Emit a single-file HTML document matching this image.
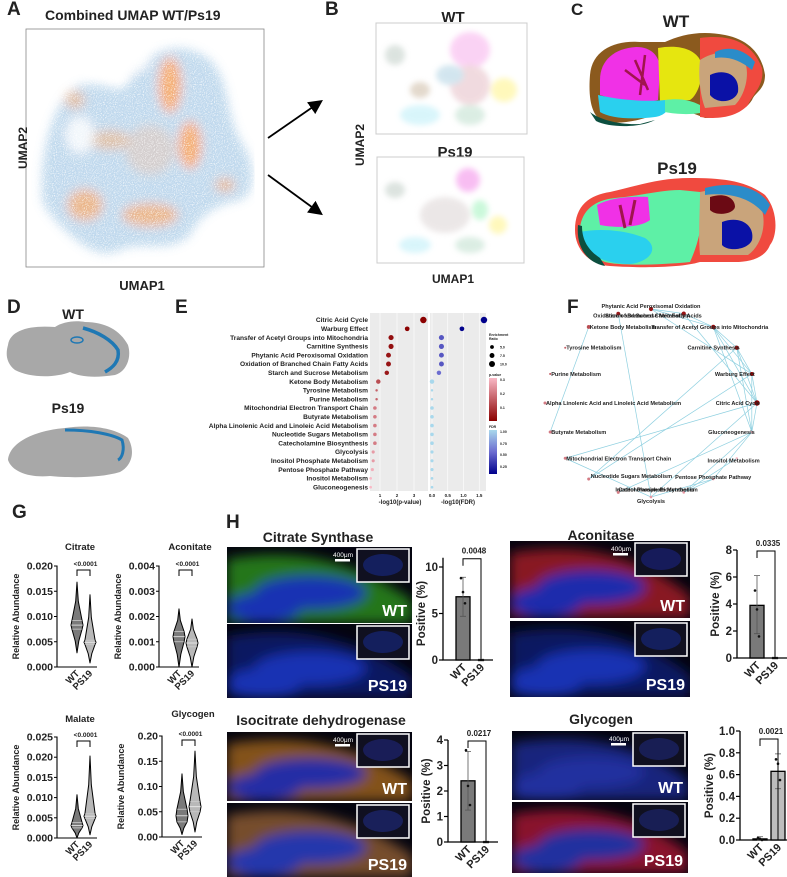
<!DOCTYPE html>
<html><head><meta charset="utf-8">
<style>
html,body{margin:0;padding:0;background:#fff;}
svg{display:block;font-family:"Liberation Sans",Arial,sans-serif;}
.b{font-weight:bold;fill:#222;}
</style></head>
<body>
<svg id="fig" width="787" height="877" viewBox="0 0 787 877" xmlns="http://www.w3.org/2000/svg">
<defs>
<filter id="blur3" x="-20%" y="-20%" width="140%" height="140%"><feGaussianBlur stdDeviation="3"/></filter>
<filter id="blur5" x="-30%" y="-30%" width="160%" height="160%"><feGaussianBlur stdDeviation="5"/></filter>
<filter id="blur6" x="-30%" y="-30%" width="160%" height="160%"><feGaussianBlur stdDeviation="6"/></filter>
<filter id="speck"><feTurbulence type="fractalNoise" baseFrequency="0.9" numOctaves="1" result="n"/><feColorMatrix in="n" type="matrix" values="0 0 0 0 1 0 0 0 0 1 0 0 0 0 1 0 0 0 -2.6 1.4" result="m"/><feComposite in="SourceGraphic" in2="m" operator="out"/></filter>
<linearGradient id="pgrad" x1="0" y1="0" x2="0" y2="1"><stop offset="0" stop-color="#f9b9c6"/><stop offset="1" stop-color="#8b0000"/></linearGradient>
<linearGradient id="fgrad" x1="0" y1="0" x2="0" y2="1"><stop offset="0" stop-color="#a8d8ec"/><stop offset="0.5" stop-color="#6c6cd0"/><stop offset="1" stop-color="#00008b"/></linearGradient>
<marker id="arrow" markerWidth="8" markerHeight="8" refX="6" refY="4" orient="auto"><path d="M0,0 L8,4 L0,8 z" fill="#000"/></marker>
</defs>

<!-- Panel A -->
<g>
<text class="b" x="7" y="15" font-size="19">A</text>
<text class="b" x="45" y="20" font-size="14" fill="#333">Combined UMAP WT/Ps19</text>
<rect x="26" y="29" width="238" height="238" fill="#fff" stroke="#888" stroke-width="0.8"/>
<g filter="url(#speck)">
<g filter="url(#blur5)" opacity="0.7">
<path d="M42,190 C40,150 55,95 80,85 C110,80 120,100 130,80 C150,45 185,40 210,60 C230,80 225,110 240,140 C258,165 255,195 240,200 C215,205 200,215 190,235 C170,255 140,240 120,250 C100,260 80,245 60,225 C45,210 40,200 42,190 Z" fill="#86b6dc" opacity="0.75"/>
<ellipse cx="170" cy="85" rx="12" ry="28" fill="#f08a35"/>
<ellipse cx="190" cy="145" rx="12" ry="24" fill="#f08a35"/>
<ellipse cx="85" cy="205" rx="18" ry="16" fill="#f08a35" opacity="0.8"/>
<ellipse cx="150" cy="215" rx="28" ry="12" fill="#f08a35" opacity="0.8"/>
<ellipse cx="225" cy="185" rx="10" ry="7" fill="#f08a35" opacity="0.7"/>
<ellipse cx="75" cy="100" rx="10" ry="9" fill="#f08a35" opacity="0.6"/>
<ellipse cx="110" cy="140" rx="20" ry="10" fill="#f08a35" opacity="0.55"/>
<ellipse cx="150" cy="150" rx="25" ry="25" fill="#e9a070" opacity="0.4"/>
<ellipse cx="80" cy="135" rx="14" ry="18" fill="#fff" opacity="0.8"/>
<ellipse cx="120" cy="60" rx="30" ry="15" fill="#fff" opacity="0.8"/>
</g></g>
<text class="b" x="0" y="0" font-size="12" transform="translate(27,148) rotate(-90)" text-anchor="middle">UMAP2</text>
<text class="b" x="142" y="290" font-size="13" text-anchor="middle">UMAP1</text>
<line x1="268" y1="138" x2="320" y2="102" stroke="#000" stroke-width="1.8" marker-end="url(#arrow)"/>
<line x1="268" y1="175" x2="320" y2="213" stroke="#000" stroke-width="1.8" marker-end="url(#arrow)"/>
</g>

<!-- Panel B -->
<g>
<text class="b" x="325" y="15" font-size="19">B</text>
<text class="b" x="453" y="22" font-size="15" text-anchor="middle">WT</text>
<rect x="376" y="23" width="151" height="111" fill="#fff" stroke="#ccc"/>
<g filter="url(#blur3)" opacity="0.5">
<ellipse cx="470" cy="50" rx="20" ry="18" fill="#f7a6ea"/>
<ellipse cx="470" cy="85" rx="20" ry="20" fill="#e3b7c0"/>
<ellipse cx="504" cy="90" rx="13" ry="12" fill="#fff27a"/>
<ellipse cx="420" cy="115" rx="20" ry="10" fill="#b3ecf7"/>
<ellipse cx="420" cy="90" rx="10" ry="8" fill="#c7b39a"/>
<ellipse cx="450" cy="75" rx="14" ry="10" fill="#a7cde0"/>
<ellipse cx="470" cy="115" rx="15" ry="10" fill="#b8dcc8"/>
<ellipse cx="395" cy="55" rx="10" ry="10" fill="#b9c8c0"/>
</g>
<text class="b" x="455" y="157" font-size="15" text-anchor="middle">Ps19</text>
<rect x="377" y="157" width="147" height="106" fill="#fff" stroke="#ccc"/>
<g filter="url(#blur3)" opacity="0.5">
<ellipse cx="468" cy="180" rx="12" ry="12" fill="#f27ee6"/>
<ellipse cx="480" cy="210" rx="8" ry="10" fill="#96f2b6"/>
<ellipse cx="498" cy="225" rx="9" ry="9" fill="#fff27a"/>
<ellipse cx="415" cy="245" rx="16" ry="8" fill="#b3ecf7"/>
<ellipse cx="445" cy="215" rx="25" ry="18" fill="#d9d0d0"/>
<ellipse cx="395" cy="190" rx="10" ry="8" fill="#b9c8c0"/>
<ellipse cx="470" cy="245" rx="15" ry="8" fill="#b8dcc8"/>
</g>
<text class="b" x="0" y="0" font-size="12" transform="translate(364,145) rotate(-90)" text-anchor="middle">UMAP2</text>
<text class="b" x="453" y="283" font-size="12" text-anchor="middle">UMAP1</text>
</g>

<!-- Panel C -->
<g>
<text class="b" x="571" y="15" font-size="17">C</text>
<text class="b" x="676" y="27" font-size="17" text-anchor="middle">WT</text>
<g>
<path d="M590,75 C592,50 615,40 640,42 L665,42 C680,35 700,30 725,35 C750,40 762,55 765,75 C765,90 755,92 752,100 C745,112 725,118 705,118 C690,112 680,108 665,110 C650,117 630,125 605,122 C592,118 588,100 590,75 Z" fill="#8b5a1e"/>
<path d="M700,38 C730,34 752,42 762,68 C765,85 752,95 748,105 C738,116 720,120 700,117 Z" fill="#f04a3f"/>
<path d="M600,80 C600,60 615,48 637,47 C650,47 660,55 660,70 L658,100 C640,105 615,100 600,95 Z" fill="#f031e6"/>
<path d="M635,60 L648,90 M645,55 L640,95 M625,70 L645,85" stroke="#a0144d" stroke-width="2.5" fill="none"/>
<path d="M658,48 C680,44 695,50 700,60 C705,75 698,95 690,100 L660,102 Z" fill="#e6e60f"/>
<path d="M598,95 C620,100 645,102 665,100 C672,105 668,115 655,117 C630,120 610,118 600,112 Z" fill="#2ad0ee"/>
<path d="M665,100 C680,98 690,100 700,105 L700,113 C688,115 675,114 665,112 Z" fill="#5ef0a6"/>
<path d="M700,60 C715,50 735,50 745,62 C750,75 745,95 735,105 L705,108 C700,95 698,75 700,60 Z" fill="#c9a47b"/>
<path d="M710,75 C725,68 740,75 738,92 C735,102 718,105 710,95 Z" fill="#0a11a6"/>
<path d="M715,52 C730,45 745,50 755,62 L752,70 C740,60 728,56 715,58 Z" fill="#2b8cc9"/>
<path d="M590,112 C600,120 620,125 640,124 L655,120 C640,128 610,128 596,121 Z" fill="#0c4f3f"/>
</g>
<text class="b" x="677" y="174" font-size="17" text-anchor="middle">Ps19</text>
<g>
<path d="M575,230 C575,205 590,195 610,192 C640,185 660,178 690,178 C720,178 745,180 765,195 C778,210 778,235 770,245 C765,258 750,262 735,262 L700,262 C680,268 640,268 610,266 C590,265 575,250 575,230 Z" fill="#f04a3f"/>
<path d="M580,228 C582,210 595,200 615,198 C640,196 660,190 680,190 L700,192 C705,215 700,240 690,262 C660,265 620,266 605,262 C588,255 578,245 580,228 Z" fill="#5ef0a6"/>
<path d="M597,205 C610,198 630,196 648,197 L650,220 C640,228 615,228 600,225 Z" fill="#f031e6"/>
<path d="M620,205 L625,228 M635,200 L630,225" stroke="#a0144d" stroke-width="3"/>
<path d="M580,232 C600,228 625,230 645,238 C660,248 650,262 630,264 C600,264 582,252 580,232 Z" fill="#2ad0ee"/>
<path d="M700,192 C725,186 750,190 760,205 C768,222 762,245 748,255 L700,255 C698,235 700,210 700,192 Z" fill="#c9a47b"/>
<path d="M710,197 C725,192 735,198 735,207 C733,215 715,216 710,210 Z" fill="#6b0a14"/>
<path d="M722,222 C740,215 755,225 752,240 C748,250 728,252 722,245 Z" fill="#0a11a6"/>
<path d="M705,188 C735,180 760,188 770,205 L765,215 C752,198 730,192 705,195 Z" fill="#2b8cc9"/>
<path d="M578,225 C576,245 585,262 605,266 L600,258 C588,250 582,240 582,226 Z" fill="#0c4f3f"/>
</g>
</g>

<!-- Panel D -->
<g>
<text class="b" x="7" y="313" font-size="19">D</text>
<text class="b" x="73" y="319" font-size="14" text-anchor="middle">WT</text>
<path d="M8,345 C10,330 30,325 55,327 C62,322 75,320 85,322 C105,322 120,330 128,345 C132,358 126,372 115,375 C95,378 80,377 70,372 C55,378 30,378 15,370 C5,362 6,352 8,345 Z" fill="#a8a8a8"/>
<path d="M83,328 C98,332 112,340 118,350 C120,362 112,368 105,372" stroke="#1f78b4" stroke-width="3.5" fill="none"/>
<ellipse cx="77" cy="340" rx="6" ry="3" fill="none" stroke="#1f78b4" stroke-width="1.5"/>
<text class="b" x="68" y="413" font-size="14" text-anchor="middle">Ps19</text>
<path d="M8,460 C10,440 40,430 65,428 C90,424 115,428 128,438 C135,450 133,465 120,472 C100,478 70,478 50,476 C30,478 12,472 8,460 Z" fill="#a8a8a8"/>
<path d="M65,430 C90,430 112,434 122,440 C125,450 122,458 118,460" stroke="#1f78b4" stroke-width="3" fill="none"/>
</g>

<!-- Panel E -->
<g id="panelE">
<text class="b" x="175" y="313" font-size="19">E</text>
<rect x="370" y="313" width="58" height="178" fill="#ebebeb"/>
<rect x="430" y="313" width="56" height="178" fill="#ebebeb"/>
<text class="b" x="489" y="336" font-size="3.5">Enrichment</text>
<text class="b" x="489" y="340" font-size="3.5">Ratio</text>
<text class="b" x="489" y="376" font-size="3.5">p-value</text>
<rect x="489" y="378" width="8" height="43" fill="url(#pgrad)"/>
<text class="b" x="500" y="381" font-size="3.5">0.3</text><text class="b" x="500" y="395" font-size="3.5">0.2</text><text class="b" x="500" y="409" font-size="3.5">0.1</text>
<text class="b" x="489" y="428" font-size="3.5">FDR</text>
<rect x="489" y="430" width="8" height="44" fill="url(#fgrad)"/>
<text class="b" x="500" y="433" font-size="3.5">1.00</text><text class="b" x="500" y="445" font-size="3.5">0.75</text><text class="b" x="500" y="456" font-size="3.5">0.50</text><text class="b" x="500" y="468" font-size="3.5">0.25</text>
<text class="b" x="400" y="504" font-size="6" text-anchor="middle">-log10(p-value)</text>
<text class="b" x="458" y="504" font-size="6" text-anchor="middle">-log10(FDR)</text>
</g>

<!-- Panel F -->
<g id="panelF">
<text class="b" x="567" y="313" font-size="19">F</text>
</g>

<!-- Panel G -->
<g id="panelG">
<text class="b" x="12" y="518" font-size="19">G</text>
</g>

<!-- Panel H -->
<g id="panelH">
<text class="b" x="226" y="528" font-size="19">H</text>
<text class="b" x="318" y="542" font-size="14" text-anchor="middle" fill="#333">Citrate Synthase</text>
<text class="b" x="601" y="540" font-size="14" text-anchor="middle" fill="#333">Aconitase</text>
<text class="b" x="321" y="725" font-size="14" text-anchor="middle" fill="#333">Isocitrate dehydrogenase</text>
<text class="b" x="601" y="724" font-size="14" text-anchor="middle" fill="#333">Glycogen</text>
</g>
</svg>

<script>
const NS = "http://www.w3.org/2000/svg";
const svg = document.getElementById('fig');
const defs = svg.querySelector('defs');
function el(tag, attrs, parent){ const e=document.createElementNS(NS,tag); for(const k in attrs) e.setAttribute(k,attrs[k]); (parent||svg).appendChild(e); return e; }

/* ---------- Panel E data ---------- */
const pathways = ["Citric Acid Cycle","Warburg Effect","Transfer of Acetyl Groups into Mitochondria","Carnitine Synthesis","Phytanic Acid Peroxisomal Oxidation","Oxidation of Branched Chain Fatty Acids","Starch and Sucrose Metabolism","Ketone Body Metabolism","Tyrosine Metabolism","Purine Metabolism","Mitochondrial Electron Transport Chain","Butyrate Metabolism","Alpha Linolenic Acid and Linoleic Acid Metabolism","Nucleotide Sugars Metabolism","Catecholamine Biosynthesis","Glycolysis","Inositol Phosphate Metabolism","Pentose Phosphate Pathway","Inositol Metabolism","Gluconeogenesis"];
const negLogP = [3.55,2.6,1.65,1.65,1.5,1.5,1.4,0.9,0.8,0.8,0.7,0.7,0.7,0.7,0.7,0.6,0.6,0.55,0.45,0.45];
const negLogFDR = [1.65,0.95,0.3,0.3,0.3,0.3,0.22,0,0,0,0,0,0,0,0,0,0,0,0,0];
const enrichRatio = [11,7,8,8,7.5,7.5,6.5,6.5,2,2,4.5,4.5,4.5,4.5,4.5,3.5,3.5,3.5,2.5,2.5];
const pTicks = [1,2,3];
const fdrTicks = [0.0,0.5,1.0,1.5];
const sizeLegend = [5.0,7.5,10.0];

const gE = document.getElementById('panelE');
const xP = v => 363 + 17*v;
const xF = v => 432 + 31.5*v;
const rowY = i => 320 + i*8.8;
const rad = r => 0.8 + 0.22*r;
function lerpC(a,b,t){t=Math.max(0,Math.min(1,t));return 'rgb('+a.map((v,i)=>Math.round(v+(b[i]-v)*t)).join(',')+')';}
const pColor = nl => lerpC([139,0,0],[249,185,198], Math.pow(10,-nl)/0.3);
const fColor = nl => { const f=Math.pow(10,-nl); return f<0.6 ? lerpC([0,0,139],[108,108,208],(f-0.1)/0.5) : lerpC([108,108,208],[168,216,236],(f-0.6)/0.4); };

pTicks.forEach(t=>{
  const l = el('line',{x1:xP(t),x2:xP(t),y1:313,y2:491,stroke:'#fff','stroke-width':0.6},gE);
  
  
  const tx = el('text',{x:xP(t),y:497,'font-size':4.5,'text-anchor':'middle',class:'b'},gE);
  tx.textContent = t;
  
  
});
fdrTicks.forEach(t=>{
  const l = el('line',{x1:xF(t),x2:xF(t),y1:313,y2:491,stroke:'#fff','stroke-width':0.6},gE);
  
  
  const tx = el('text',{x:xF(t),y:497,'font-size':4.5,'text-anchor':'middle',class:'b'},gE);
  tx.textContent = t.toFixed(1);
  
  
});
pathways.forEach((p,i)=>{
  const tx = el('text',{x:368,y:rowY(i)+2.2,'font-size':6.6,'text-anchor':'end',class:'b'},gE);
  tx.textContent = p;
  
  
  const c1 = el('circle',{cx:xP(negLogP[i]),cy:rowY(i),r:rad(enrichRatio[i]),fill:pColor(negLogP[i])},gE);
  
  
  const c2 = el('circle',{cx:xF(negLogFDR[i]),cy:rowY(i),r:rad(enrichRatio[i]),fill:fColor(negLogFDR[i])},gE);
  
  
});
sizeLegend.forEach((s,i)=>{
  const c = el('circle',{cx:492,cy:347+i*8.5,r:rad(s),fill:'#000'},gE);
  
  
  const tx = el('text',{x:500,y:348.5+i*8.5,'font-size':3.5,class:'b'},gE);
  tx.textContent = s.toFixed(1);
  
  
});

/* ---------- Panel F network ---------- */
const netNodes = ["Phytanic Acid Peroxisomal Oxidation","Oxidation of Branched Chain Fatty Acids","Transfer of Acetyl Groups into Mitochondria","Carnitine Synthesis","Warburg Effect","Citric Acid Cycle","Gluconeogenesis","Inositol Metabolism","Pentose Phosphate Pathway","Inositol Phosphate Metabolism","Glycolysis","Catecholamine Biosynthesis","Nucleotide Sugars Metabolism","Mitochondrial Electron Transport Chain","Butyrate Metabolism","Alpha Linolenic Acid and Linoleic Acid Metabolism","Purine Metabolism","Tyrosine Metabolism","Ketone Body Metabolism","Starch and Sucrose Metabolism"];
const netEdges = [[0,1],[0,2],[1,2],[0,4],[1,5],[2,3],[2,4],[2,5],[2,6],[3,4],[3,5],[3,6],[4,5],[4,6],[5,6],[18,14],[19,10],[5,13],[13,10],[12,3],[6,11],[6,8],[6,9],[5,10],[8,10],[8,9],[7,9],[4,12]];
const gF = document.getElementById('panelF');
const nodeXY = i => { const a = -Math.PI/2 + i*2*Math.PI/netNodes.length; return [651+106*Math.cos(a), 403+94*Math.sin(a)]; };
netEdges.forEach(([a,b])=>{
  const [x1,y1]=nodeXY(a),[x2,y2]=nodeXY(b);
  const l = el('line',{x1,y1,x2,y2,stroke:'#8fd0e0','stroke-width':0.7},gF);
  
  
});
netNodes.forEach((n,i)=>{
  const [x,y]=nodeXY(i);
  const k = pathways.indexOf(n);
  const c = el('circle',{cx:x,cy:y,r:rad(enrichRatio[k])*0.85,fill:pColor(negLogP[k])},gF);
  
  
  const cs = Math.cos(-Math.PI/2 + i*2*Math.PI/netNodes.length);
  let anchor='middle', tx=x, ty=y+2;
  if (cs > 0.3) { anchor='end'; tx=x+3; }
  else if (cs < -0.3) { anchor='start'; tx=x+1; }
  if (i===0) ty=y-1; if (i===10) ty=y+6; if (i===1){tx=x+18;ty=y+4;} if(i===19){tx=x-13;ty=y+4;}
  if (i===2){tx=x+55;} if(i===9){tx=x+14;ty=y-1;} if(i===11){tx=x;ty=y-1;} if(i===8){tx=x+38;ty=y;}
  if (i===12){tx=x+2;ty=y-1;} if(i===7){tx=x+23;ty=y+4;}
  const t = el('text',{x:tx,y:ty,'font-size':5.6,'text-anchor':anchor,class:'b'},gF);
  t.textContent = n;
  
  
});

/* ---------- Panel G violins ---------- */
const violinTitles = ["Citrate","Aconitate","Malate","Glycogen"];
const violinMax = [0.020,0.004,0.025,0.20];
const violinTicks = [[0,0.005,0.010,0.015,0.020],[0,0.001,0.002,0.003,0.004],[0,0.005,0.010,0.015,0.020,0.025],[0,0.05,0.10,0.15,0.20]];
const violinDecimals = [3,3,3,2];
// [min, q1, median, q3, max]
const wtStats = [[0.0028,0.0075,0.0083,0.0092,0.0168],[0.0,0.0010,0.0012,0.0014,0.0023],[0.0,0.0025,0.0031,0.0038,0.0107],[0.005,0.030,0.042,0.055,0.125]];
const ps19Stats = [[0.0008,0.0045,0.0049,0.0053,0.0143],[0.0,0.0008,0.00095,0.0011,0.0019],[0.0008,0.0048,0.0054,0.0060,0.0203],[0.010,0.050,0.060,0.070,0.170]];
const violinP = ["<0.0001","<0.0001","<0.0001","<0.0001"];
const gG = document.getElementById('panelG');
const vLayout = [{ax:57,top:566,bot:667,ty:550},{ax:159,top:566,bot:667,ty:550},{ax:57,top:737,bot:838,ty:722},{ax:162,top:736,bot:837,ty:717}];
violinTitles.forEach((title,k)=>{
  const L = vLayout[k];
  const y = v => L.bot - (L.bot-L.top)*v/violinMax[k];
  const xW = L.ax+20, xP19 = L.ax+33;
  const ax = el('path',{d:`M${L.ax-3},${L.top} H${L.ax} V${L.bot} H${L.ax+40}`,stroke:'#000','stroke-width':1.1,fill:'none'},gG);
  
  
  violinTicks[k].forEach(t=>{
    const tl = el('line',{x1:L.ax-3,x2:L.ax,y1:y(t),y2:y(t),stroke:'#000','stroke-width':1},gG);
    
    
    const tx = el('text',{x:L.ax-4,y:y(t)+3.5,'font-size':10.5,'text-anchor':'end',class:'b'},gG);
    tx.textContent = t.toFixed(violinDecimals[k]);
    
    
  });
  const tt = el('text',{x:L.ax+ (k%2? 31:23),y:L.ty,'font-size':9.5,'text-anchor':'middle',class:'b'},gG);
  tt.textContent = title;
  
  
  const yt = el('text',{x:0,y:0,'font-size':9,'text-anchor':'middle',class:'b',transform:`translate(${L.ax-38},${(L.top+L.bot)/2}) rotate(-90)`},gG);
  yt.textContent = 'Relative Abundance';
  
  
  const by = L.top+4;
  const br = el('path',{d:`M${xW},${by+6} V${by} H${xP19} V${by+6}`,stroke:'#000','stroke-width':1,fill:'none'},gG);
  
  
  const pt = el('text',{x:(xW+xP19)/2+2,y:by-4,'font-size':6.5,'text-anchor':'middle',class:'b'},gG);
  pt.textContent = violinP[k];
  
  
  [[wtStats[k],xW,'#7a7a7a','WT'],[ps19Stats[k],xP19,'#b8b8b8','PS19']].forEach(([s,cx,fill,lab])=>{
    const w=6;
    const prof=[[s[0],0],[(s[0]+s[1])/2,0.3*w],[s[1],0.85*w],[s[2],w],[s[3],0.85*w],[(s[3]+s[4])/2,0.22*w],[s[4],0]];
    let d='M'+cx+','+y(s[0]);
    prof.forEach(([v,hw])=>{ d+=' L'+(cx+hw)+','+y(v); });
    prof.slice().reverse().forEach(([v,hw])=>{ d+=' L'+(cx-hw)+','+y(v); });
    d+='Z';
    const vp = el('path',{d,fill,stroke:'#000','stroke-width':1,'stroke-linejoin':'round'},gG);
    
    
    [s[1],s[2],s[3]].forEach((q,qi)=>{
      const hw = qi===1? w*0.95 : w*0.8;
      const ql = el('line',{x1:cx-hw,x2:cx+hw,y1:y(q),y2:y(q),stroke:qi===1?'#eee':'#ccc','stroke-width':0.8},gG);
      
      
    });
    const xl = el('text',{x:0,y:0,'font-size':9.5,'text-anchor':'end',class:'b',transform:`translate(${cx+3},${L.bot+7}) rotate(-45)`},gG);
    xl.textContent = lab;
    
    
  });
});

/* ---------- Panel H micrographs ---------- */
const gH = document.getElementById('panelH');
const imgPanels = [
 {name:'citrate-synthase',x:227,w:185,y1:547,h1:76,y2:624,h2:74,c1:['#2a8a1a','#1d3bd0'],c2:['#0d1c70','#1d3bd0']},
 {name:'aconitase',x:510,w:180,y1:541,h1:77,y2:621,h2:76,c1:['#a01a28','#2230c8'],c2:['#0d1c70','#1d3bd0']},
 {name:'idh',x:227,w:185,y1:732,h1:69,y2:803,h2:74,c1:['#9a601a','#2a36c0'],c2:['#8a5a30','#2a40c8']},
 {name:'glycogen',x:512,w:176,y1:731,h1:69,y2:802,h2:71,c1:['#1c2a90','#2838b8'],c2:['#a01830','#2838b8']}
];
let clipN = 0;
imgPanels.forEach(p=>{
  [[p.y1,p.h1,p.c1,'WT'],[p.y2,p.h2,p.c2,'PS19']].forEach(([yy,hh,cc,lab])=>{
    const bg = el('rect',{x:p.x,y:yy,width:p.w,height:hh,fill:'#050510'},gH);
    
    
    const cp = el('clipPath',{id:'imgclip'+clipN},defs);
    el('rect',{x:p.x,y:yy,width:p.w,height:hh},cp);
    const outer = el('g',{'clip-path':`url(#imgclip${clipN})`},gH);
    clipN++;
    const g = el('g',{filter:'url(#blur6)',opacity:0.85},outer);
    
    
    el('path',{d:`M${p.x},${yy+12} C${p.x+60},${yy+2} ${p.x+120},${yy+8} ${p.x+p.w},${yy+hh*0.7} L${p.x+p.w},${yy+hh} L${p.x},${yy+hh} Z`,fill:cc[0]},g);
    el('ellipse',{cx:p.x+p.w*0.45,cy:yy+hh*0.6,rx:p.w*0.3,ry:hh*0.22,fill:cc[1]},g);
    el('ellipse',{cx:p.x+p.w*0.2,cy:yy+hh*0.8,rx:p.w*0.2,ry:hh*0.2,fill:cc[1]},g);
    const ix = p.x+p.w-55;
    const ins = el('rect',{x:ix,y:yy+2,width:52,height:33,fill:'#101020',stroke:'#fff','stroke-width':1.5},gH);
    
    
    el('ellipse',{cx:ix+26,cy:yy+18,rx:20,ry:11,fill:cc[1],opacity:0.35},gH);
    const lt = el('text',{x:p.x+p.w-5,y:yy+hh-7,'font-size':16,'text-anchor':'end','font-weight':'bold',fill:'#fff'},gH);
    lt.textContent = lab;
    
    
    if (lab==='WT') {
      const sx = ix-26;
      const st = el('text',{x:sx+12,y:yy+10,'font-size':6.5,'text-anchor':'middle',fill:'#fff'},gH);
      st.textContent = '400μm';
      
      
      const sl = el('rect',{x:sx+4,y:yy+12,width:15,height:2.5,fill:'#fff'},gH);
      
      
    }
  });
});

/* ---------- Panel H bar charts ---------- */
const barNames = ["citrate-synthase","aconitase","idh","glycogen"];
const barMeans = [[6.8,0],[3.9,0],[2.4,0],[0.01,0.63]];
const barErrLo = [[4.7,0],[1.8,0],[1.25,0],[0.0,0.47]];
const barErrHi = [[8.9,0],[6.1,0],[3.55,0],[0.03,0.79]];
const barPointsWT = [[8.8,7.3,6.1],[5.0,3.6,1.6],[3.6,2.2,1.45],[0.02,0.01,0.0]];
const barPointsPS = [[0,0,0],[0,0,0],[0,0,0],[0.74,0.70,0.55]];
const barMax = [11,8,4,1.0];
const barTicks = [[0,5,10],[0,2,4,6,8],[0,1,2,3,4],[0,0.2,0.4,0.6,0.8,1.0]];
const barTickDec = [0,0,0,1];
const barP = ["0.0048","0.0335","0.0217","0.0021"];
const bLayout = [{ax:443,top:567,bot:660,vTop:10},{ax:737,top:550,bot:658,vTop:8},{ax:448,top:740,bot:842,vTop:4},{ax:740,top:731,bot:840,vTop:1.0}];
barNames.forEach((nm,k)=>{
  const L=bLayout[k];
  const y = v => L.bot - (L.bot-L.top)*v/L.vTop;
  const cx=[L.ax+20, L.ax+38];
  const ax = el('path',{d:`M${L.ax},${y(barMax[k])} V${L.bot} H${L.ax+50}`,stroke:'#000','stroke-width':1.3,fill:'none'},gH);
  
  
  barTicks[k].forEach(t=>{
    const tl = el('line',{x1:L.ax-4,x2:L.ax,y1:y(t),y2:y(t),stroke:'#000','stroke-width':1.2},gH);
    
    
    const tx = el('text',{x:L.ax-5,y:y(t)+4,'font-size':11.5,'text-anchor':'end',class:'b'},gH);
    tx.textContent = t.toFixed(barTickDec[k]);
    
    
  });
  const ytt = el('text',{x:0,y:0,'font-size':11.5,'text-anchor':'middle',class:'b',transform:`translate(${L.ax-(k===3?27:18)},${(L.top+L.bot)/2}) rotate(-90)`},gH);
  ytt.textContent = 'Positive (%)';
  
  
  ['WT','PS19'].forEach((lab,j)=>{
    const m = barMeans[k][j];
    const r = el('rect',{x:cx[j]-7,y:y(m),width:14,height:L.bot-y(m),fill:j? '#bdbdbd':'#7a7a7a',stroke:'#000','stroke-width':1.3},gH);
    
    
    const e = el('path',{d:`M${cx[j]},${y(barErrLo[k][j])} V${y(barErrHi[k][j])} M${cx[j]-3},${y(barErrHi[k][j])} H${cx[j]+3} M${cx[j]-3},${y(barErrLo[k][j])} H${cx[j]+3}`,stroke:'#555','stroke-width':0.8,fill:'none'},gH);
    
    
    (j? barPointsPS[k]:barPointsWT[k]).forEach((v,pi)=>{
      const c = el('circle',{cx:cx[j]+(pi-1)*2,cy:y(v),r:1.3,fill:'#111'},gH);
      
      
    });
    const xl = el('text',{x:0,y:0,'font-size':11,'text-anchor':'end',class:'b',transform:`translate(${cx[j]+4},${L.bot+8}) rotate(-45)`},gH);
    xl.textContent = lab;
    
    
  });
  const by = y(barMax[k])-(k===3?-8:-1);
  const br = el('path',{d:`M${cx[0]},${by+7} V${by} H${cx[1]} V${L.bot}`,stroke:'#000','stroke-width':1,fill:'none'},gH);
  
  
  const pt = el('text',{x:(cx[0]+cx[1])/2+2,y:by-5,'font-size':8,'text-anchor':'middle',class:'b'},gH);
  pt.textContent = barP[k];
  
  
});
</script>
</body></html>
